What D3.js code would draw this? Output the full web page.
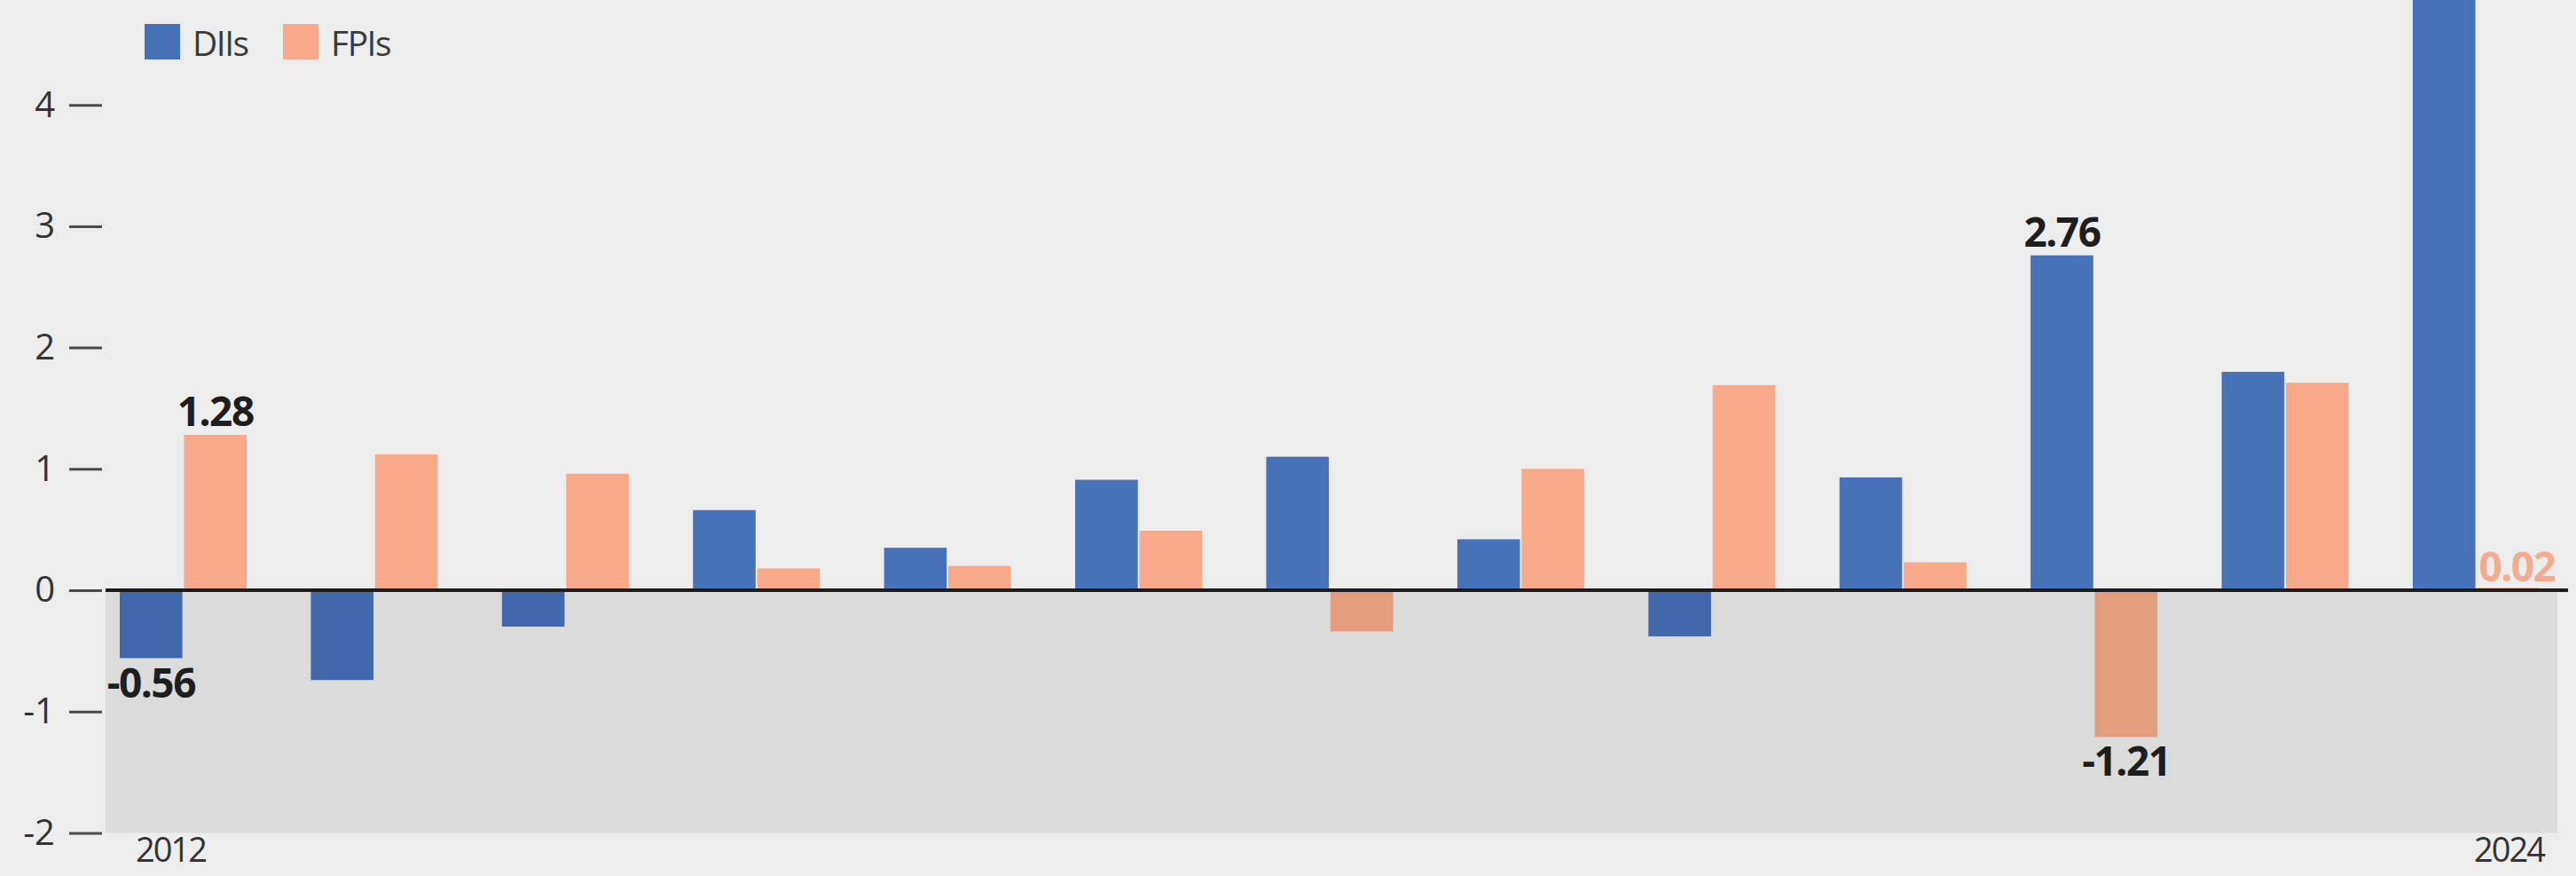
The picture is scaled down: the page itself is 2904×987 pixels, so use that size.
<!DOCTYPE html>
<html>
<head>
<meta charset="utf-8">
<script src="https://cdn.jsdelivr.net/npm/d3@7"></script>
<style>
  html, body { margin: 0; padding: 0; background: #ededed; }
  svg { display: block; }
  text { font-family: "Open Sans", "Noto Sans", sans-serif; }
</style>
</head>
<body>
<svg id="chart" width="2904" height="987"></svg>
<script>
// Net annual equity flows, ₹ lakh crore
const years = ["2012","2013","2014","2015","2016","2017","2018","2019","2020","2021","2022","2023","2024"];
const diiValues = [-0.56, -0.74, -0.30, 0.66, 0.35, 0.91, 1.10, 0.42, -0.38, 0.93, 2.76, 1.80, 5.22];
const fpiValues = [1.28, 1.12, 0.96, 0.18, 0.20, 0.49, -0.34, 1.00, 1.69, 0.23, -1.21, 1.71, 0.02];
const seriesNames = ["DIIs", "FPIs"];
const yTicks = [-2, -1, 0, 1, 2, 3, 4];
const xTickLabels = ["2012", "2024"];
// values that carry a number label
const labelledDII = ["2012", "2022"];
const labelledFPI = ["2012", "2022", "2024"];

const colors = { DIIs: "#4771b8", FPIs: "#f7a98a" };

// plain hyphen for negative numbers
const locale = d3.formatLocale({ decimal: ".", thousands: ",", grouping: [3], currency: ["", ""], minus: "-" });
const fmt = locale.format(".2f");
const tickFmt = locale.format("d");

const svg = d3.select("#chart");

const x = d3.scaleBand().domain(years).range([135, 2863]).paddingInner(0.336).paddingOuter(0);
const xs = d3.scaleBand().domain(seriesNames).range([0, x.bandwidth()]).paddingInner(0.025);
const y = d3.scaleLinear().domain([-2, 4]).range([938.4, 118.2]);

// y axis
const yAxis = svg.append("g")
  .attr("transform", "translate(115,0)")
  .call(d3.axisLeft(y).tickValues(yTicks).tickSize(37).tickPadding(16).tickFormat(tickFmt));
yAxis.select(".domain").remove();
yAxis.selectAll(".tick line").attr("stroke", "#4a4a4a").attr("stroke-width", 3);
yAxis.selectAll(".tick text").attr("font-size", 40).attr("fill", "#333")
  .attr("font-family", "'Open Sans', sans-serif");

// bars
const rows = years.map((yr, i) => ({ year: yr, DIIs: diiValues[i], FPIs: fpiValues[i] }));
const groups = svg.append("g").selectAll("g").data(rows).join("g")
  .attr("transform", d => `translate(${x(d.year)},0)`);
groups.selectAll("rect").data(d => seriesNames.map(k => ({ key: k, value: d[k] })))
  .join("rect")
  .attr("x", d => xs(d.key))
  .attr("width", xs.bandwidth())
  .attr("y", d => y(Math.max(0, d.value)))
  .attr("height", d => Math.abs(y(d.value) - y(0)))
  .attr("fill", d => colors[d.key]);

// shaded negative zone
svg.append("rect")
  .attr("x", 119).attr("width", 2883 - 119)
  .attr("y", y(0)).attr("height", y(-2) - y(0))
  .attr("fill", "rgba(0,0,0,0.075)");

// zero line
svg.append("line")
  .attr("x1", 119).attr("x2", 2895)
  .attr("y1", y(0)).attr("y2", y(0))
  .attr("stroke", "#1c1c1c").attr("stroke-width", 4);

// value labels
function addLabel(year, key, value) {
  const cx = x(year) + xs(key) + xs.bandwidth() / 2;
  const t = svg.append("text")
    .attr("font-size", 46).attr("font-weight", 700)
    .attr("fill", "#1e1e1e")
    .attr("letter-spacing", -1.5)
    .text(fmt(value));
  if (Math.abs(value) < 0.1) {
    t.attr("x", x(year) + xs(key) + 2).attr("y", y(0) - 10)
      .attr("text-anchor", "start").attr("fill", "#f4ab90");
  } else if (value >= 0) {
    t.attr("x", cx).attr("y", y(value) - 10).attr("text-anchor", "middle");
  } else {
    t.attr("x", cx).attr("y", y(value) + 44).attr("text-anchor", "middle");
  }
}
labelledDII.forEach(yr => addLabel(yr, "DIIs", diiValues[years.indexOf(yr)]));
labelledFPI.forEach(yr => addLabel(yr, "FPIs", fpiValues[years.indexOf(yr)]));

// x axis: first and last year only
const xAxis = svg.append("g")
  .attr("transform", "translate(0,940)")
  .call(d3.axisBottom(x).tickValues(xTickLabels).tickSize(0).tickPadding(4));
xAxis.select(".domain").remove();
xAxis.selectAll(".tick text")
  .attr("font-size", 38).attr("fill", "#333")
  .attr("font-family", "'Open Sans', sans-serif")
  .attr("letter-spacing", -2)
  .attr("text-anchor", (d, i) => i === 0 ? "start" : "end")
  .attr("x", (d, i) => i === 0 ? 153 - x(d) - x.bandwidth() / 2 : 2868 - x(d) - x.bandwidth() / 2);

// legend
const legend = svg.append("g");
seriesNames.forEach((name, i) => {
  const lx = [163, 319][i];
  legend.append("rect").attr("x", lx).attr("y", 27).attr("width", 40).attr("height", 40)
    .attr("fill", colors[name]);
  legend.append("text").attr("x", lx + 54).attr("y", 63)
    .attr("font-size", 39).attr("fill", "#3a3a3a").attr("letter-spacing", -1.5)
    .text(name);
});
</script>
</body>
</html>
